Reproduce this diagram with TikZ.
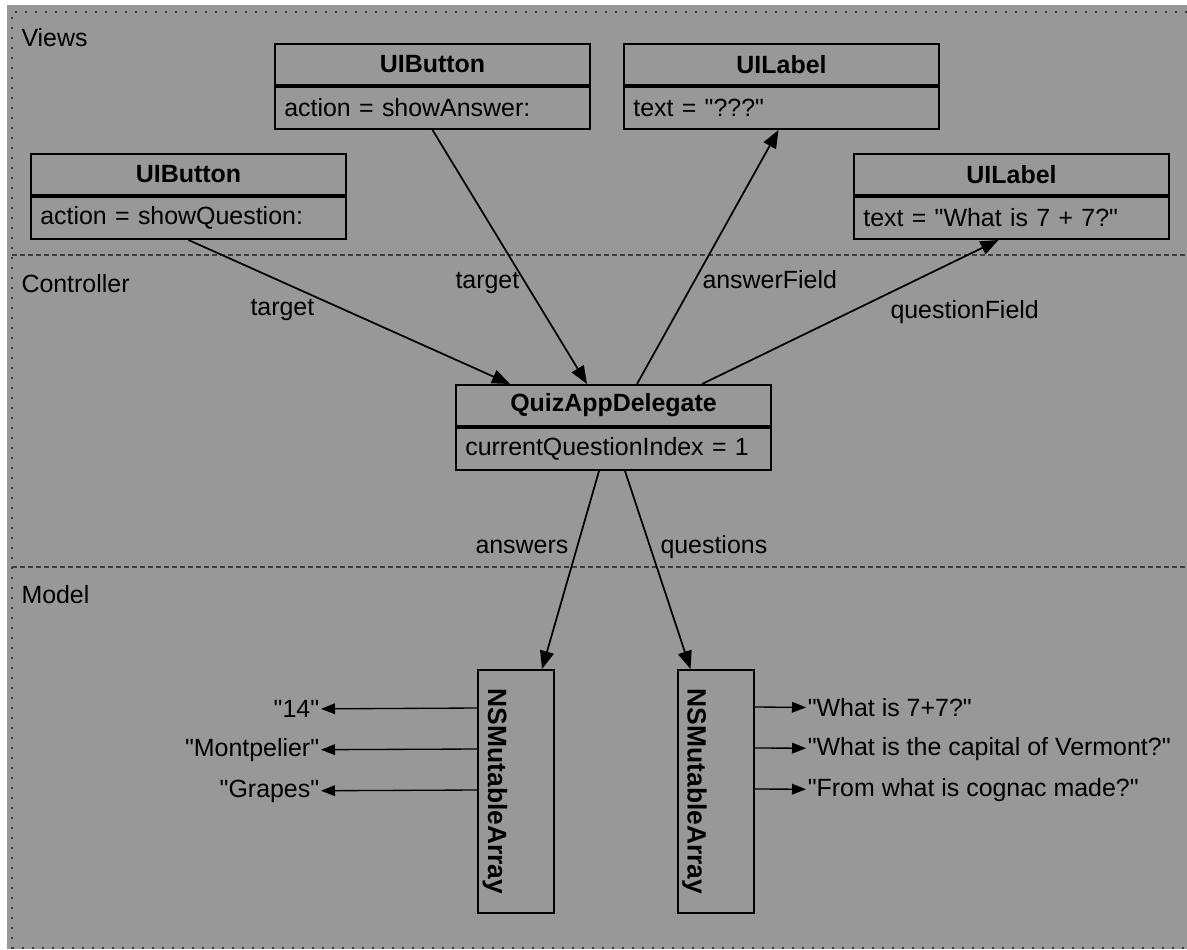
\documentclass[tikz,border=0pt]{standalone}
\usepackage{fontspec}
\setmainfont{Liberation Sans}[Ligatures=TeXOff]
\usepackage{graphicx}
\usetikzlibrary{arrows.meta,calc}

\definecolor{panelgray}{RGB}{152,152,152}
\definecolor{rulegray}{RGB}{62,62,62}

\tikzset{every picture/.style={line width=0.75pt}}
\tikzset{
    classhead/.style={draw, line width=1.5pt, anchor=north west, minimum width=236.25pt, minimum height=30.75pt, inner sep=0pt, font=\fontsize{18.7}{22}\selectfont\bfseries},
    classbody/.style={draw, line width=1.5pt, anchor=north west, text width=222.25pt, minimum height=31.5pt, inner xsep=7pt, inner ysep=0pt, align=left, font=\fontsize{18.7}{22}\selectfont},
    arraybox/.style={draw, line width=1.5pt, text width=50pt, minimum height=182.25pt, inner xsep=3.5pt, inner ysep=0pt, align=left, font=\fontsize{19.8}{22}\selectfont\bfseries},
    section/.style={anchor=base west, inner sep=0pt, font=\fontsize{18.7}{22}\selectfont},
    linklabel/.style={anchor=base west, inner sep=0pt, font=\fontsize{18.7}{22}\selectfont},
    item/.style={inner sep=1pt, font=\fontsize{18.7}{22}\selectfont},
    link/.style={-{Triangle[length=13.5pt,width=10.5pt]}, line width=1.3pt},
    itemlink/.style={-{Triangle[length=10.5pt,width=8pt]}, line width=1pt},
    frameline/.style={draw=rulegray, line width=1.8pt, dash pattern=on 1.8pt off 5.7pt},
    layerline/.style={draw=rulegray, line width=0.8pt, dash pattern=on 3.75pt off 2.25pt}
}

\begin{document}
\begin{tikzpicture}[
                x=0.75pt,
                y=0.75pt,
                yscale=-1,
                xscale=1,
                every node/.style={text=black},
                line width=0.75pt
            ]
                \useasboundingbox (0,0) rectangle (1187,949);
                \fill[white] (0,0) rectangle (1187,949);
                \fill[panelgray] (7,5) rectangle (1187,949);

                % frame and layers
                \draw[frameline] (1187,12) -- (12,12) -- (12,949);
                \draw[frameline] (12,948) -- (1187,948);
                \draw[layerline] (12,255) -- (1187,255);
                \draw[layerline] (12,567) -- (1187,567);

                \node[section] (views) at (21,47) {Views};
                \node[section] (controller) at (21,292) {Controller};
                \node[section] (model) at (21,603) {Model};

                % views
                \node[classhead] (btnq) at (30,153) {UIButton};
                \node[classbody] (btnqb) at (btnq.south west) {action = showQuestion:};
                \node[classhead] (btna) at (274,43) {UIButton};
                \node[classbody] (btnab) at (btna.south west) {action = showAnswer:};
                \node[classhead] (lbla) at (623,43) {UILabel};
                \node[classbody] (lblab) at (lbla.south west) {text = "???"};
                \node[classhead] (lblq) at (853,153) {UILabel};
                \node[classbody] (lblqb) at (lblq.south west) {text = "What is 7 + 7?"};

                % controller
                \node[classhead] (quiz) at (455,384) {QuizAppDelegate};
                \node[classbody] (quizb) at (quiz.south west) {currentQuestionIndex = 1};

                % model
                \node[arraybox] (ansarr) at (516,791.5) {\rotatebox{-90}{NSMutableArray}};
                \node[arraybox] (qarr) at (715.5,791.5) {\rotatebox{-90}{NSMutableArray}};

                \node[item, anchor=east] (a14) at (321,709) {"14"};
                \node[item, anchor=east] (amont) at (321,750) {"Montpelier"};
                \node[item, anchor=east] (agrapes) at (321,791) {"Grapes"};
                \node[item, anchor=west] (qseven) at (806,708) {"What is 7+7?"};
                \node[item, anchor=west] (qvermont) at (806,749) {"What is the capital of Vermont?"};
                \node[item, anchor=west] (qcognac) at (806,790) {"From what is cognac made?"};

                % connectors
                \draw[link] (btnqb.south) -- ($(quiz.north west)+(55,0)$);
                \draw[link] (btnab.south) -- ($(quiz.north west)+(132,0)$);
                \draw[link] ($(quiz.north west)+(182,0)$) -- ($(lblab.south)+(-3,0)$);
                \draw[link] ($(quiz.north west)+(247,0)$) -- ($(lblqb.south)+(-13,0)$);
                \draw[link] ($(quizb.south west)+(144,0)$) -- ($(ansarr.north)+(26,0)$);
                \draw[link] ($(quizb.south west)+(170,0)$) -- ($(qarr.north)+(-25,0)$);

                \node[linklabel] (tgtq) at (250,315) {target};
                \node[linklabel] (tgta) at (455,288) {target};
                \node[linklabel] (ansfield) at (702,288) {answerField};
                \node[linklabel] (qfield) at (890,318) {questionField};
                \node[linklabel] (answers) at (475,553) {answers};
                \node[linklabel] (questions) at (660,553) {questions};

                \draw[itemlink] ($(ansarr.north west)+(0,39)$) -- (a14);
                \draw[itemlink] ($(ansarr.north west)+(0,80)$) -- (amont);
                \draw[itemlink] ($(ansarr.north west)+(0,121)$) -- (agrapes);
                \draw[itemlink] ($(qarr.north east)+(0,38)$) -- (qseven);
                \draw[itemlink] ($(qarr.north east)+(0,79)$) -- (qvermont);
                \draw[itemlink] ($(qarr.north east)+(0,120)$) -- (qcognac);
            \end{tikzpicture}
\end{document}
